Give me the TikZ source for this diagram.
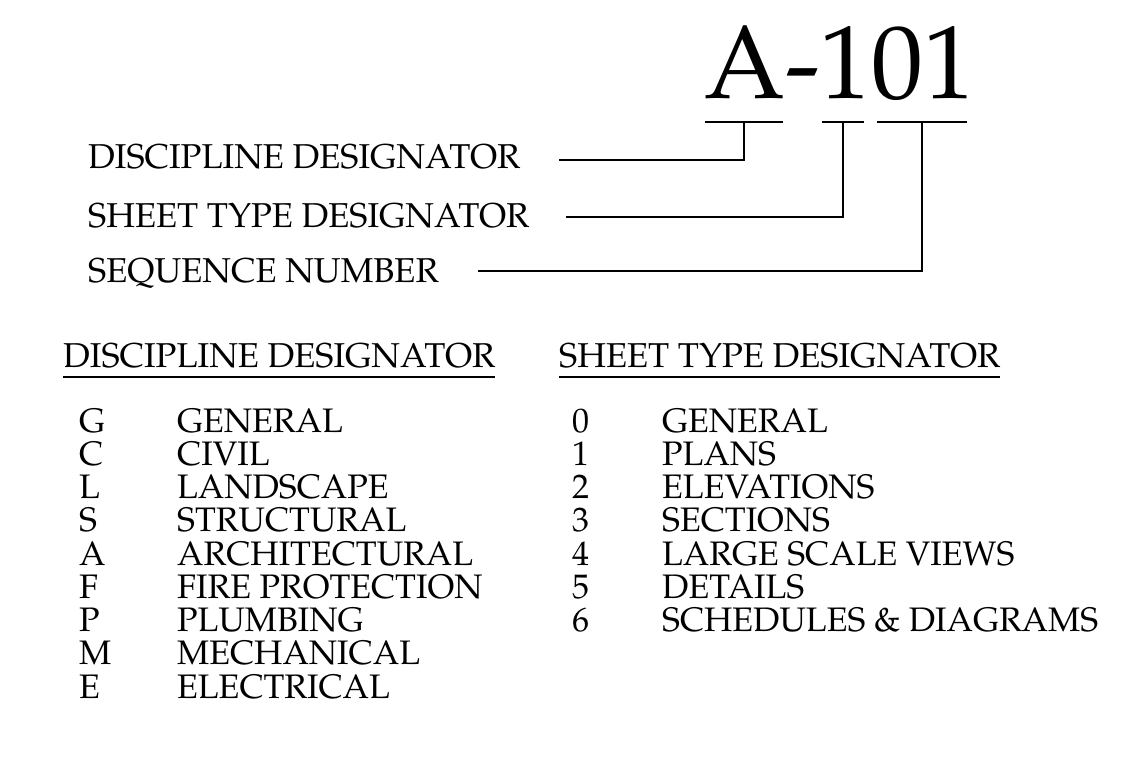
\documentclass[tikz,border=0pt]{standalone}
\usepackage[T1]{fontenc}
\usepackage{mathpazo}
\usetikzlibrary{positioning,calc}

\begin{document}
\begin{tikzpicture}[x=1pt,y=-1pt,
    lbl/.style={anchor=base west, inner sep=0pt, font=\fontsize{34.5}{38}\selectfont},
    item/.style={anchor=base west, inner sep=0pt, font=\fontsize{34}{38}\selectfont},
    lead/.style={line width=1.8pt}]
  \useasboundingbox (0,0) rectangle (1136,757);

  % sheet number and its parts
  \node[anchor=base west, inner sep=0pt, font=\fontsize{104}{110}\selectfont] (sheetno) at (704,99) {A-101};
  \coordinate (barA1) at (705,122); \coordinate (barA2) at (783,122);
  \coordinate (barB1) at (822,122); \coordinate (barB2) at (864,122);
  \coordinate (barC1) at (877,122); \coordinate (barC2) at (967,122);
  \draw[lead] (barA1) -- (barA2);
  \draw[lead] (barB1) -- (barB2);
  \draw[lead] (barC1) -- (barC2);

  % leader labels
  \node[lbl] (discl) at (88,168) {DISCIPLINE DESIGNATOR};
  \node[lbl] (typel) at (88,227) {SHEET TYPE DESIGNATOR};
  \node[lbl] (seql)  at (88,282) {SEQUENCE NUMBER};
  \coordinate (discend) at (559,160);
  \coordinate (typeend) at (566,217);
  \coordinate (seqend)  at (478,271);
  \draw[lead] (discend) -- (744,160) -- ($(barA1)!0.5!(barA2)$);
  \draw[lead] (typeend) -- (843,217) -- ($(barB1)!0.5!(barB2)$);
  \draw[lead] (seqend)  -- (922,271) -- ($(barC1)!0.5!(barC2)$);

  % tables
  \node[lbl] (dhead) at (63,367) {DISCIPLINE DESIGNATOR};
  \node[lbl] (thead) at (559,367) {SHEET TYPE DESIGNATOR};
  \draw[lead] ($(dhead.base west)+(0,10)$) -- ($(dhead.base east)+(0,10)$);
  \draw[lead] ($(thead.base west)+(0,10)$) -- ($(thead.base east)+(0,10)$);

  \foreach \k/\name [count=\i from 0] in {G/GENERAL, C/CIVIL, L/LANDSCAPE, S/STRUCTURAL,
      A/ARCHITECTURAL, F/FIRE PROTECTION, P/PLUMBING, M/MECHANICAL, E/ELECTRICAL} {
    \node[item] (dk\i) at (79,432+33.25*\i) {\k};
    \node[item] (dn\i) at (177,432+33.25*\i) {\name};
  }
  \foreach \k/\name [count=\i from 0] in {0/GENERAL, 1/PLANS, 2/ELEVATIONS, 3/SECTIONS,
      4/LARGE SCALE VIEWS, 5/DETAILS, 6/SCHEDULES \& DIAGRAMS} {
    \node[item] (tk\i) at (572,432+33.25*\i) {\k};
    \node[item] (tn\i) at (662,432+33.25*\i) {\name};
  }
\end{tikzpicture}
\end{document}
